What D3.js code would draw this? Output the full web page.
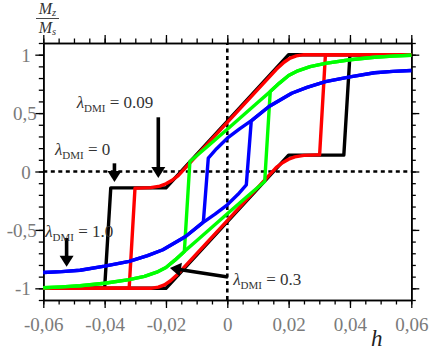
<!DOCTYPE html>
<html>
<head>
<meta charset="utf-8">
<script src="https://cdn.jsdelivr.net/npm/d3@7"></script>
<style>
html, body { margin: 0; padding: 0; background: #fff; }
svg { display: block; }
</style>
</head>
<body>
<div id="chart"></div>
<script>
// Hysteresis loops Mz/Ms vs h for several DMI strengths

const xTicksMajor = [-0.06, -0.04, -0.02, 0, 0.02, 0.04, 0.06]
const xTickLabels = ['-0,06', '-0,04', '-0,02', '0', '0,02', '0,04', '0,06']
const yTicksMajor = [-1, -0.5, 0, 0.5, 1]
const yTickLabels = ['-1', '-0,5', '0', '0,5', '1']

// lambda_DMI = 0 (black)
const blackUpper = [[0.06, 1], [0.02, 1], [-0.02, -0.14], [-0.038, -0.14], [-0.04, -1], [-0.06, -1]]
const blackLower = [[-0.06, -1], [-0.02, -1], [0.02, 0.14], [0.038, 0.14], [0.04, 1], [0.06, 1]]

// lambda_DMI = 0.09 (red)
const redUpper = [[0.06, 1], [0.025, 1], [0.0225, 0.99], [0.0205, 0.97], [0.0185, 0.935], [0.016, 0.875],
	[0, 0.42], [-0.016, -0.035], [-0.018, -0.075], [-0.02, -0.105], [-0.022, -0.125], [-0.025, -0.138],
	[-0.029, -0.142], [-0.0301, -0.142], [-0.032, -1], [-0.06, -1]]
const redLower = [[-0.06, -1], [-0.025, -1], [-0.0225, -0.99], [-0.0205, -0.97], [-0.0185, -0.935], [-0.016, -0.875],
	[0, -0.42], [0.016, 0.035], [0.018, 0.075], [0.02, 0.105], [0.022, 0.125], [0.025, 0.138],
	[0.029, 0.142], [0.0301, 0.142], [0.032, 1], [0.06, 1]]

// lambda_DMI = 0.3 (green)
const greenUpper = [[0.06, 0.995], [0.054, 0.988], [0.048, 0.978], [0.04, 0.957], [0.032, 0.926], [0.027, 0.897],
	[0.023, 0.862], [0.02, 0.822], [0.017, 0.757], [0.014, 0.684], [0.01, 0.593], [0.005, 0.478], [0, 0.362],
	[-0.006, 0.225], [-0.0122, 0.085], [-0.014, -0.684], [-0.017, -0.757], [-0.02, -0.822], [-0.023, -0.862],
	[-0.027, -0.897], [-0.032, -0.926], [-0.04, -0.957], [-0.048, -0.978], [-0.054, -0.988], [-0.06, -0.995]]
const greenLower = [[-0.06, -0.995], [-0.054, -0.988], [-0.048, -0.978], [-0.04, -0.957], [-0.032, -0.926], [-0.027, -0.897],
	[-0.023, -0.862], [-0.02, -0.822], [-0.017, -0.757], [-0.014, -0.684], [-0.01, -0.593], [-0.005, -0.478], [0, -0.362],
	[0.006, -0.225], [0.0122, -0.085], [0.014, 0.684], [0.017, 0.757], [0.02, 0.822], [0.023, 0.862],
	[0.027, 0.897], [0.032, 0.926], [0.04, 0.957], [0.048, 0.978], [0.054, 0.988], [0.06, 0.995]]

// lambda_DMI = 1.0 (blue)
const blueUpper = [[0.06, 0.865], [0.054, 0.857], [0.048, 0.845], [0.04, 0.81], [0.032, 0.77], [0.026, 0.72],
	[0.021, 0.67], [0.0136, 0.556], [0.0082, 0.442], [0.004, 0.365], [0, 0.285], [-0.0035, 0.195],
	[-0.0057, 0.13], [-0.0062, 0.115], [-0.0078, -0.43], [-0.0082, -0.442], [-0.0136, -0.556], [-0.021, -0.67],
	[-0.026, -0.72], [-0.032, -0.77], [-0.04, -0.81], [-0.048, -0.845], [-0.054, -0.857], [-0.06, -0.865]]
const blueLower = [[-0.06, -0.865], [-0.054, -0.857], [-0.048, -0.845], [-0.04, -0.81], [-0.032, -0.77], [-0.026, -0.72],
	[-0.021, -0.67], [-0.0136, -0.556], [-0.0082, -0.442], [-0.004, -0.365], [0, -0.285], [0.0035, -0.195],
	[0.0057, -0.13], [0.0062, -0.115], [0.0078, 0.43], [0.0082, 0.442], [0.0136, 0.556], [0.021, 0.67],
	[0.026, 0.72], [0.032, 0.77], [0.04, 0.81], [0.048, 0.845], [0.054, 0.857], [0.06, 0.865]]

const loops = [
	{ color: '#000000', upper: blackUpper, lower: blackLower },
	{ color: '#ff0000', upper: redUpper, lower: redLower },
	{ color: '#00ff00', upper: greenUpper, lower: greenLower },
	{ color: '#0000ff', upper: blueUpper, lower: blueLower },
]

// labels: text position (h, M), arrow from -> to (h, M)
const labels = [
	{ value: '0.09', at: [-0.0491, 0.544], from: [-0.0225, 0.464], to: [-0.0225, -0.056] },
	{ value: '0', at: [-0.0562, 0.141], from: [-0.0368, 0.07], to: [-0.0368, -0.09] },
	{ value: '1.0', at: [-0.0594, -0.558], from: [-0.0524, -0.569], to: [-0.0524, -0.815] },
	{ value: '0.3', at: [0.0019, -0.972], from: [0.0002, -0.903], to: [-0.0187, -0.826] },
]

const svgWidth = 436
const svgHeight = 355
const margin = { top: 43, right: 24.7, bottom: 55, left: 43.3 }
const serif = "'Liberation Serif', 'DejaVu Serif', serif"

const svg = d3
	.select('#chart')
	.append('svg')
	.attr('width', svgWidth)
	.attr('height', svgHeight)

const x = d3.scaleLinear().domain([-0.06, 0.06]).range([margin.left, svgWidth - margin.right])
const y = d3.scaleLinear().domain([-1.1, 1.1]).range([svgHeight - margin.bottom, margin.top])

const xMinor = d3.range(-0.06, 0.0601, 0.005)
const yMinor = d3.range(-1.1, 1.1001, 0.1)

// zero lines
svg.append('line')
	.attr('x1', x(0)).attr('x2', x(0))
	.attr('y1', y(-1.1)).attr('y2', y(1.1))
	.attr('stroke', '#000').attr('stroke-width', 2.6).attr('stroke-dasharray', '4,3.5')
svg.append('line')
	.attr('x1', x(-0.06)).attr('x2', x(0.06))
	.attr('y1', y(0)).attr('y2', y(0))
	.attr('stroke', '#000').attr('stroke-width', 2.6).attr('stroke-dasharray', '4,3.5')

// axes, ticks pointing outwards on all four sides
function addAxis(axis, transform) {
	const g = svg.append('g').attr('transform', transform).call(axis)
	g.attr('font-family', null)
	g.select('.domain').attr('stroke-width', 1.6)
	g.selectAll('.tick line').attr('stroke-width', 1.3)
	return g
}

const bottomY = `translate(0,${y(-1.1)})`
const topY = `translate(0,${y(1.1)})`
const leftX = `translate(${x(-0.06)},0)`
const rightX = `translate(${x(0.06)},0)`

addAxis(d3.axisBottom(x).tickValues(xMinor).tickSize(4.5).tickSizeOuter(0).tickFormat(''), bottomY)
addAxis(d3.axisTop(x).tickValues(xMinor).tickSize(4.5).tickSizeOuter(0).tickFormat(''), topY)
addAxis(d3.axisTop(x).tickValues(xTicksMajor).tickSize(8).tickSizeOuter(0).tickFormat(''), topY)
addAxis(d3.axisLeft(y).tickValues(yMinor).tickSize(4.5).tickSizeOuter(0).tickFormat(''), leftX)
addAxis(d3.axisRight(y).tickValues(yMinor).tickSize(4.5).tickSizeOuter(0).tickFormat(''), rightX)
addAxis(d3.axisRight(y).tickValues(yTicksMajor).tickSize(8).tickSizeOuter(0).tickFormat(''), rightX)

const xAxis = addAxis(
	d3.axisBottom(x).tickValues(xTicksMajor).tickSize(8).tickPadding(10).tickSizeOuter(0)
		.tickFormat((d, i) => xTickLabels[i]),
	bottomY
)
xAxis.selectAll('text').style('font-family', serif).attr('font-size', 19).attr('fill', '#7a7a7a')

const yAxis = addAxis(
	d3.axisLeft(y).tickValues(yTicksMajor).tickSize(8).tickSizeOuter(0)
		.tickFormat((d, i) => yTickLabels[i]),
	leftX
)
yAxis.selectAll('text')
	.style('font-family', serif).attr('font-size', 19).attr('fill', '#7a7a7a')
	.attr('dy', '0.35em')
	.attr('x', (d, i) => (yTickLabels[i].includes(',') ? -6.5 : -12.5))

// loops
const line = d3.line().x((d) => x(d[0])).y((d) => y(d[1]))

loops.forEach((loop) => {
	;[loop.upper, loop.lower].forEach((branch) => {
		svg.append('path')
			.datum(branch)
			.attr('fill', 'none')
			.attr('stroke', loop.color)
			.attr('stroke-width', 3.4)
			.attr('stroke-linejoin', 'round')
			.attr('d', line)
	})
})

// annotation arrows and labels
function arrow(from, to) {
	const x1 = x(from[0]), y1 = y(from[1])
	const x2 = x(to[0]), y2 = y(to[1])
	const len = Math.hypot(x2 - x1, y2 - y1)
	const ux = (x2 - x1) / len, uy = (y2 - y1) / len
	const head = 11, half = 7
	svg.append('line')
		.attr('x1', x1).attr('y1', y1)
		.attr('x2', x2 - ux * head * 0.7).attr('y2', y2 - uy * head * 0.7)
		.attr('stroke', '#000').attr('stroke-width', 3.6)
	const bx = x2 - ux * head, by = y2 - uy * head
	svg.append('polygon')
		.attr('points', [[x2, y2], [bx - uy * half, by + ux * half], [bx + uy * half, by - ux * half]].join(' '))
		.attr('fill', '#000')
}

labels.forEach((l) => {
	arrow(l.from, l.to)
	const t = svg.append('text')
		.attr('x', x(l.at[0])).attr('y', y(l.at[1]))
		.style('font-family', serif).attr('font-size', 17).attr('fill', '#333')
	t.append('tspan').attr('font-style', 'italic').text('λ')
	t.append('tspan').attr('font-size', 11).attr('dy', 4).text('DMI')
	t.append('tspan').attr('dy', -4).text(' = ' + l.value)
})

// axis titles
const yTitle = svg.append('g').style('font-family', serif).attr('fill', '#333').attr('font-style', 'italic')
const mz = yTitle.append('text').attr('x', 47.5).attr('y', 14).attr('text-anchor', 'middle').attr('font-size', 16)
mz.append('tspan').text('M')
mz.append('tspan').attr('font-size', 10.5).attr('dy', 1.5).text('z')
yTitle.append('line')
	.attr('x1', 36).attr('x2', 59).attr('y1', 18.5).attr('y2', 18.5)
	.attr('stroke', '#333').attr('stroke-width', 0.9)
const ms = yTitle.append('text').attr('x', 47.5).attr('y', 33).attr('text-anchor', 'middle').attr('font-size', 16)
ms.append('tspan').text('M')
ms.append('tspan').attr('font-size', 10.5).attr('dy', 1.5).text('s')

svg.append('text')
	.attr('x', 371).attr('y', 346)
	.style('font-family', serif).attr('font-style', 'italic').attr('font-size', 23).attr('fill', '#222')
	.text('h')
</script>
</body>
</html>
